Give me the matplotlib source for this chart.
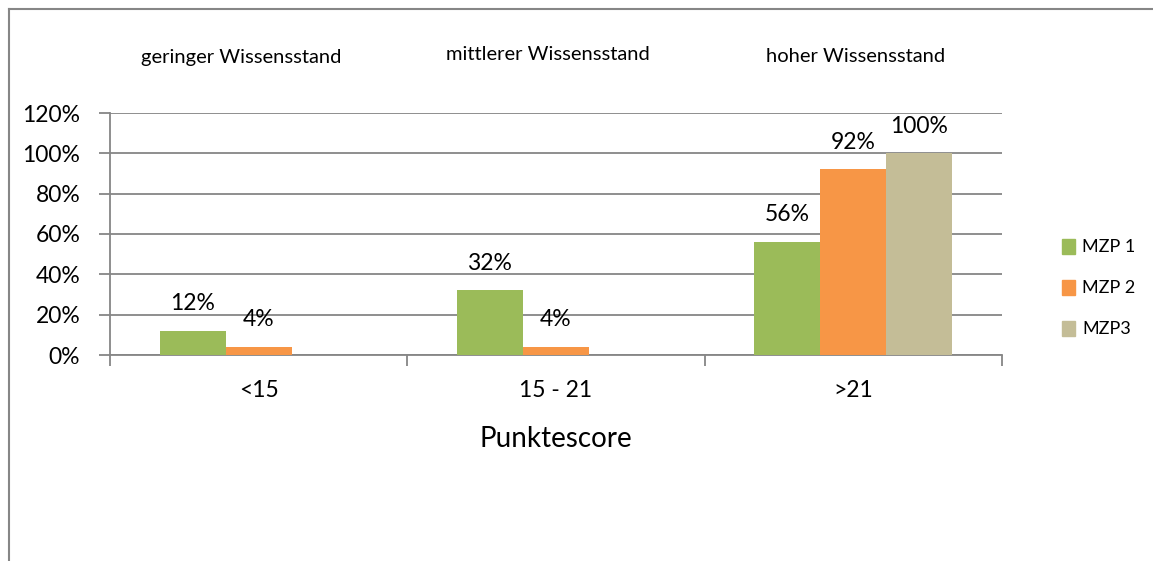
import matplotlib
matplotlib.use("Agg")
import matplotlib.pyplot as plt
from matplotlib.patches import Rectangle
from matplotlib.lines import Line2D

plt.rcParams['font.family'] = ['Lato', 'DejaVu Sans']

categories = ["<15", "15 - 21", ">21"]
group_titles = ["geringer Wissensstand", "mittlerer Wissensstand", "hoher Wissensstand"]
series_names = ["MZP 1", "MZP 2", "MZP3"]
mzp1 = [0.12, 0.32, 0.56]
mzp2 = [0.04, 0.04, 0.92]
mzp3 = [None, None, 1.00]
colors = ["#9BBB59", "#F79646", "#C4BD97"]
yticks = [0, 0.2, 0.4, 0.6, 0.8, 1.0, 1.2]

W, H = 1153, 561
fig = plt.figure(figsize=(W / 100, H / 100), dpi=100)

# outer frame (top and left visible)
fig.add_artist(Line2D([9 / W, 9 / W], [0, 1 - 9 / H], transform=fig.transFigure, color="#868686", lw=1.5))
fig.add_artist(Line2D([9 / W, 1], [1 - 9 / H, 1 - 9 / H], transform=fig.transFigure, color="#868686", lw=1.5))

left, right = 110 / W, 1002 / W
bottom, top = 1 - 355 / H, 1 - 113 / H
ax = fig.add_axes([left, bottom, right - left, top - bottom])

bw = 0.2222
grid_c = "#868686"
fs = 16.5
for i, vals in enumerate([mzp1, mzp2, mzp3]):
    for j, v in enumerate(vals):
        if v is None:
            continue
        x = j + (i - 1) * bw
        ax.bar(x, v, width=bw, color=colors[i], edgecolor='none', zorder=3)
        ax.annotate(f"{round(v * 100)}%", (x, v), xytext=(0, 19.5), textcoords='offset points',
                    ha='center', va='center', fontsize=fs, color="#000000", zorder=4)

ax.set_xlim(-0.5, 2.5)
ax.set_ylim(0, 1.2)
ax.set_yticks(yticks)
ax.set_yticklabels([f"{round(t * 100)}%" for t in yticks], fontsize=fs)
ax.yaxis.grid(True, color=grid_c, lw=1.3, zorder=0)
ax.set_axisbelow(True)

ax.set_xticks([-0.5, 0.5, 1.5, 2.5])
ax.set_xticklabels([])
ax.set_xticks([0, 1, 2], minor=True)
ax.set_xticklabels(categories, minor=True, fontsize=fs)
ax.tick_params(axis='x', which='minor', length=0, pad=18)
ax.tick_params(axis='x', which='major', length=8, width=1.3, color=grid_c, direction='out')
ax.tick_params(axis='y', length=8, width=1.3, color=grid_c, direction='out', pad=13.5)

for s in ['top', 'right']:
    ax.spines[s].set_visible(False)
for s in ['left', 'bottom']:
    ax.spines[s].set_color(grid_c)
    ax.spines[s].set_linewidth(1.3)

ax.set_xlabel("Punktescore", fontsize=20, labelpad=18)

title_y = [58, 55, 57]
title_x = [241, 548, 856]
for j, t in enumerate(group_titles):
    fig.text(title_x[j] / W, 1 - title_y[j] / H, t, ha='center', va='center', fontsize=14.5)

# legend
leg_handles = [Rectangle((0, 0), 1, 1, color=c) for c in colors]
fig.legend(leg_handles, series_names, loc='center left', bbox_to_anchor=(1046 / W, 1 - 288 / H),
           frameon=False, fontsize=13, handlelength=0.7, handleheight=0.9, labelspacing=1.35,
           handletextpad=0.4)

fig.savefig("out.png", dpi=100, facecolor='white')
